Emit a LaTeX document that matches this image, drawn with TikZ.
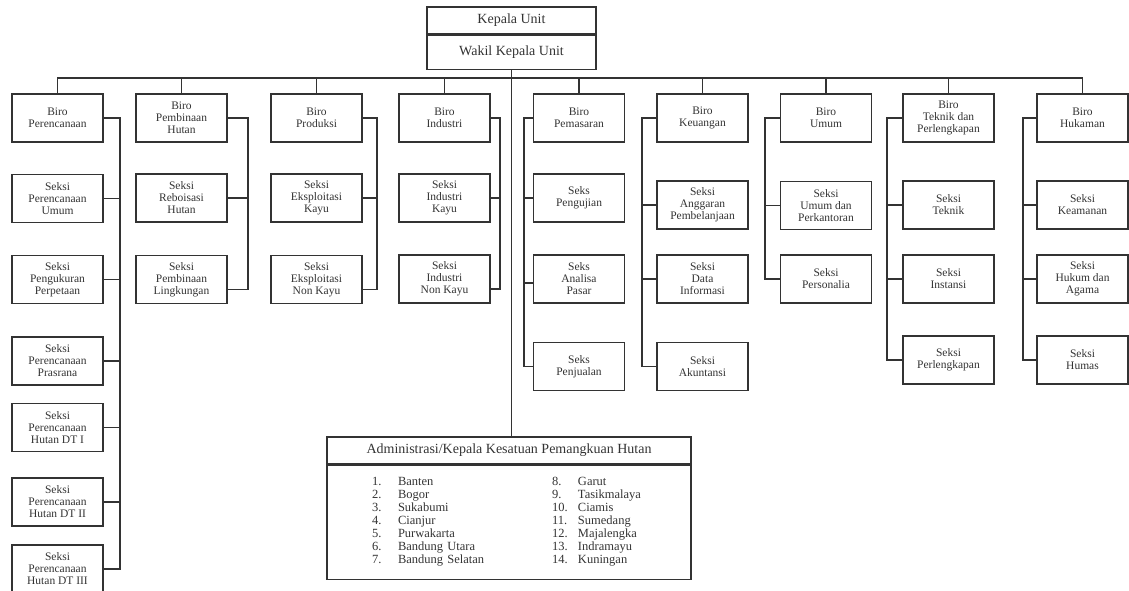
\documentclass[tikz,border=0pt]{standalone}
\usepackage{fontspec}
\setmainfont{Liberation Serif}
\usetikzlibrary{positioning}
\tikzset{box/.style={draw,align=center,minimum width=91pt,minimum height=48pt,inner sep=1pt,font=\fontsize{11.5}{12}\selectfont},
  head/.style={draw,minimum width=169pt,inner sep=0pt,font=\fontsize{14}{15}\selectfont},
  wide/.style={draw,minimum width=364pt,inner sep=0pt}}

\begin{document}
\begin{tikzpicture}[x=1pt,y=-1pt,color=black!80,line width=1.1pt]
\useasboundingbox (0,0) rectangle (1129,590);
% pimpinan
\node[head,minimum height=27pt] (ku) at (511.5,20.5) {Kepala Unit};
\node[head,minimum height=34pt,below=0pt of ku] (wku) {Wakil Kepala Unit};
% biro
\foreach \n/\x/\txt in {bRen/57.5/{Biro\\Perencanaan}, bBin/181.5/{Biro\\Pembinaan\\Hutan},
  bPro/316.5/{Biro\\Produksi}, bInd/444.5/{Biro\\Industri}, bPem/579/{Biro\\Pemasaran},
  bKeu/702.5/{Biro\\Keuangan}, bUmu/826/{Biro\\Umum}, bTek/948.5/{Biro\\Teknik dan\\Perlengkapan},
  bHuk/1082.5/{Biro\\Hukaman}}
  \node[box] (\n) at (\x,118) {\txt};
% seksi
\foreach \n/\x/\y/\txt in {
  sRen1/57.5/198.5/{Seksi\\Perencanaan\\Umum}, sRen2/57.5/279.5/{Seksi\\Pengukuran\\Perpetaan},
  sRen3/57.5/361/{Seksi\\Perencanaan\\Prasrana}, sRen4/57.5/427.5/{Seksi\\Perencanaan\\Hutan DT I},
  sRen5/57.5/502/{Seksi\\Perencanaan\\Hutan DT II}, sRen6/57.5/569/{Seksi\\Perencanaan\\Hutan DT III},
  sBin1/181.5/198/{Seksi\\Reboisasi\\Hutan}, sBin2/181.5/279.5/{Seksi\\Pembinaan\\Lingkungan},
  sPro1/316.5/198/{Seksi\\Eksploitasi\\Kayu}, sPro2/316.5/279.5/{Seksi\\Eksploitasi\\Non Kayu},
  sInd1/444.5/198/{Seksi\\Industri\\Kayu}, sInd2/444.5/279/{Seksi\\Industri\\Non Kayu},
  sPem1/579/198/{Seks\\Pengujian}, sPem2/579/279/{Seks\\Analisa\\Pasar}, sPem3/579/366.5/{Seks\\Penjualan},
  sKeu1/702.5/205/{Seksi\\Anggaran\\Pembelanjaan}, sKeu2/702.5/279/{Seksi\\Data\\Informasi},
  sKeu3/702.5/366.5/{Seksi\\Akuntansi},
  sUmu1/826/205.5/{Seksi\\Umum dan\\Perkantoran}, sUmu2/826/279/{Seksi\\Personalia},
  sTek1/948.5/205/{Seksi\\Teknik}, sTek2/948.5/279/{Seksi\\Instansi}, sTek3/948.5/360/{Seksi\\Perlengkapan},
  sHuk1/1082.5/205/{Seksi\\Keamanan}, sHuk2/1082.5/279/{Seksi\\Hukum dan\\Agama}, sHuk3/1082.5/360/{Seksi\\Humas}}
  \node[box] (\n) at (\x,\y) {\txt};
% kesatuan pemangkuan hutan
\node[wide,minimum height=27pt,font=\fontsize{14}{15}\selectfont] (kph) at (509,450.5) {Administrasi/Kepala Kesatuan Pemangkuan Hutan};
\node[wide,minimum height=114pt,below=0pt of kph,inner xsep=45pt,text width=274pt,align=left,
  font=\fontsize{12.5}{13}\selectfont] (kphList) {\setlength{\tabcolsep}{0pt}%
  \begin{tabular}{p{26pt}p{154pt}p{26pt}l}
  1. & Banten & 8. & Garut\\
  2. & Bogor & 9. & Tasikmalaya\\
  3. & Sukabumi & 10. & Ciamis\\
  4. & Cianjur & 11. & Sumedang\\
  5. & Purwakarta & 12. & Majalengka\\
  6. & Bandung Utara & 13. & Indramayu\\
  7. & Bandung Selatan & 14. & Kuningan
  \end{tabular}};
% garis utama
\coordinate (bus) at (0,78);
\draw (wku.south) -- (wku.south |- kph.north);
\draw (bRen.north) |- (bus -| bHuk.north) -- (bHuk.north);
\foreach \b in {bBin,bPro,bInd,bPem,bKeu,bUmu,bTek}
  \draw (\b.north) -- (\b.north |- bus);
% batang cabang
\foreach \b/\x in {bRen/120,bBin/248,bPro/377,bInd/500,bPem/524,bKeu/642,bUmu/765,bTek/887,bHuk/1023}
  \coordinate (t\b) at (\x,0);
\coordinate (eBin) at ([yshift=-10pt]sBin2.east);
\coordinate (ePro) at ([yshift=-10pt]sPro2.east);
\coordinate (eInd) at ([yshift=-10pt]sInd2.east);
\coordinate (wPem) at ([yshift=-4pt]sPem2.west);
% cabang kanan
\draw (bRen.east) -| (tbRen |- sRen6.east) -- (sRen6.east);
\foreach \s in {sRen1,sRen2,sRen3,sRen4,sRen5}
  \draw (\s.east) -- (\s.east -| tbRen);
\draw (bBin.east) -| (tbBin |- eBin) -- (eBin);
\draw (sBin1.east) -- (sBin1.east -| tbBin);
\draw (bPro.east) -| (tbPro |- ePro) -- (ePro);
\draw (sPro1.east) -- (sPro1.east -| tbPro);
\draw (bInd.east) -| (tbInd |- eInd) -- (eInd);
\draw (sInd1.east) -- (sInd1.east -| tbInd);
% cabang kiri
\draw (bPem.west) -| (tbPem |- sPem3.west) -- (sPem3.west);
\draw (sPem1.west) -- (sPem1.west -| tbPem);
\draw (wPem) -- (wPem -| tbPem);
\foreach \b in {Keu,Umu,Tek,Huk}{
  \draw (b\b.west) -| (tb\b |- s\b2.west) -- (s\b2.west);
  \draw (s\b1.west) -- (s\b1.west -| tb\b);}
\foreach \b in {Keu,Tek,Huk}
  \draw (s\b3.west) -| (tb\b |- s\b2.west);
\end{tikzpicture}
\end{document}
